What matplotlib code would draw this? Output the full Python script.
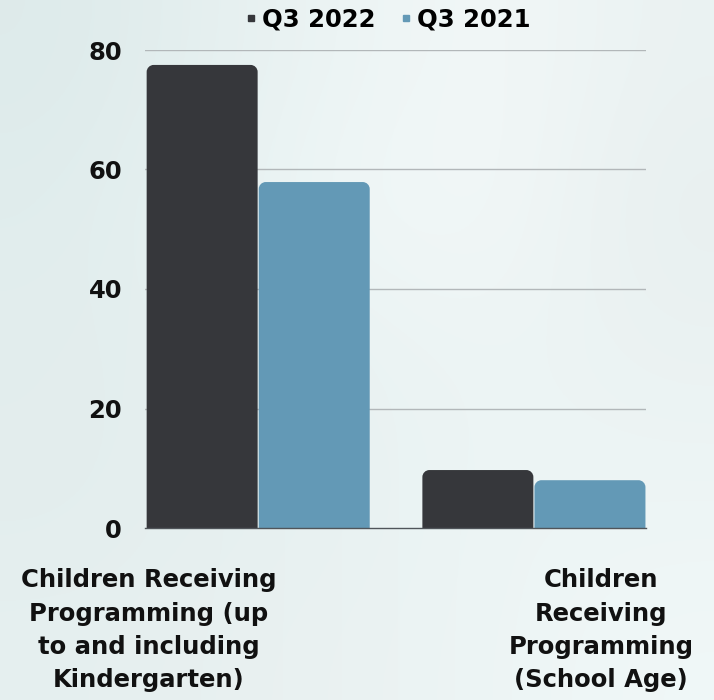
import numpy as np
import matplotlib
matplotlib.use("Agg")
import matplotlib.pyplot as plt
from matplotlib.path import Path
from matplotlib.patches import PathPatch
from matplotlib.lines import Line2D

# ---- data ----
categories = ["Children Receiving\nProgramming (up\nto and including\nKindergarten)",
              "Children\nReceiving\nProgramming\n(School Age)"]
series_names = ["Q3 2022", "Q3 2021"]
q3_2022 = [77.5, 9.7]
q3_2021 = [57.9, 8.0]
yticks = [0, 20, 40, 60, 80]

# ---- style ----
DARK = "#36373b"
BLUE = "#6399b6"
FONT = "DejaVu Sans"
plt.rcParams['font.family'] = [FONT]

W, H = 714, 700
fig = plt.figure(figsize=(W / 100, H / 100), dpi=100)

# background: soft cloudy gradient
bg = fig.add_axes([0, 0, 1, 1], zorder=-10)
grid = np.array([
    [[0.87, 0.92, 0.92], [0.90, 0.94, 0.94], [0.93, 0.96, 0.96], [0.95, 0.97, 0.97], [0.92, 0.95, 0.95]],
    [[0.88, 0.93, 0.93], [0.91, 0.95, 0.95], [0.94, 0.97, 0.97], [0.95, 0.97, 0.97], [0.91, 0.94, 0.94]],
    [[0.89, 0.93, 0.93], [0.90, 0.94, 0.94], [0.92, 0.95, 0.95], [0.93, 0.96, 0.96], [0.92, 0.95, 0.95]],
    [[0.89, 0.93, 0.93], [0.90, 0.94, 0.94], [0.91, 0.95, 0.95], [0.93, 0.96, 0.96], [0.93, 0.96, 0.96]],
    [[0.90, 0.94, 0.94], [0.91, 0.94, 0.94], [0.92, 0.95, 0.95], [0.93, 0.96, 0.96], [0.94, 0.97, 0.97]],
])
bg.imshow(grid, aspect='auto', interpolation='bicubic', extent=[0, 1, 0, 1])
bg.set_axis_off()

left, right = 145 / W, 646 / W
bottom, top = 1 - 528 / H, 1 - 50 / H
ax = fig.add_axes([left, bottom, right - left, top - bottom])
ax.patch.set_alpha(0)

x = np.arange(len(categories))
w = 0.4065
gap = 0.004
xlim = (-w - 0.004, 1 + w)
ylim = (0, 80)
ax.set_xlim(*xlim)
ax.set_ylim(*ylim)

ax_w_px = (right - left) * W
ax_h_px = (top - bottom) * H
px_x = ax_w_px / (xlim[1] - xlim[0])
px_y = ax_h_px / (ylim[1] - ylim[0])
r_px = 7.0
rx, ry = r_px / px_x, r_px / px_y


def rounded_bar(x0, width, height, color):
    x1 = x0 + width
    ryy = min(ry, height / 2)
    k = 0.5523
    verts = [
        (x0, 0), (x0, height - ryy),
        (x0, height - ryy + k * ryy), (x0 + rx - k * rx, height), (x0 + rx, height),
        (x1 - rx, height),
        (x1 - rx + k * rx, height), (x1, height - ryy + k * ryy), (x1, height - ryy),
        (x1, 0), (x0, 0)
    ]
    codes = [Path.MOVETO, Path.LINETO,
             Path.CURVE4, Path.CURVE4, Path.CURVE4,
             Path.LINETO,
             Path.CURVE4, Path.CURVE4, Path.CURVE4,
             Path.LINETO, Path.CLOSEPOLY]
    ax.add_patch(PathPatch(Path(verts, codes), facecolor=color, edgecolor='none', zorder=3))


for xi, v1, v2 in zip(x, q3_2022, q3_2021):
    rounded_bar(xi - w + gap / 2, w - gap, v1, DARK)
    rounded_bar(xi + gap / 2, w - gap, v2, BLUE)

# grid
ax.set_yticks(yticks)
for yv in yticks[1:]:
    ax.axhline(yv, color="#b2b7b9", lw=1.0, zorder=1)
ax.axhline(0, color="#50555a", lw=1.0, zorder=4, clip_on=False)

for s in ax.spines.values():
    s.set_visible(False)
ax.set_xticks([])
ax.tick_params(axis='y', length=0, pad=16.5, labelsize=17.5, labelcolor='#111111')
for lbl in ax.get_yticklabels():
    lbl.set_fontweight('bold')

# category labels
label_x = [149 / W, 601 / W]
for cx, cat in zip(label_x, categories):
    fig.text(cx, 1 - 568 / H, cat, ha='center', va='top', fontsize=17.5,
             fontweight='bold', color='#111111', linespacing=1.5, multialignment='center')

# legend
handles = [Line2D([], [], marker='s', linestyle='none', markersize=4, color=DARK),
           Line2D([], [], marker='s', linestyle='none', markersize=4, color=BLUE)]
fig.legend(handles, series_names, loc='center', bbox_to_anchor=(388 / W, 1 - 20 / H), ncol=2,
           frameon=False, handlelength=0.5, handletextpad=0.2, columnspacing=1.0,
           prop={'weight': 'bold', 'size': 17.5})

fig.savefig("out.png", dpi=100)
